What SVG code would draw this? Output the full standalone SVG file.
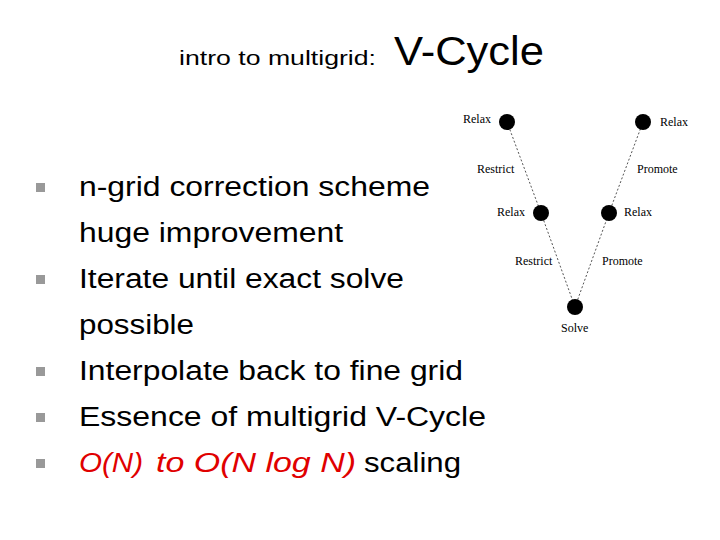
<svg xmlns="http://www.w3.org/2000/svg" width="720" height="540" viewBox="0 0 720 540">
<style>
.b{font-family:"Liberation Sans",Arial,sans-serif;font-size:27px;fill:#000}
.r{fill:#e00000;font-style:italic}
.s{font-family:"Liberation Serif","Times New Roman",serif;font-size:12px;fill:#000}
.n{fill:#000}
.e{stroke:#555;stroke-width:1;stroke-dasharray:2,2;fill:none}
.q{fill:#999}
</style>
<rect width="720" height="540" fill="#fff"/>
<text x="179" y="65" font-family="Liberation Sans,Arial,sans-serif" font-size="20" textLength="197" lengthAdjust="spacingAndGlyphs">intro to multigrid:</text>
<text x="394" y="65" font-family="Liberation Sans,Arial,sans-serif" font-size="40" textLength="150" lengthAdjust="spacingAndGlyphs">V-Cycle</text>
<g id="bullets">
<rect class="q" x="36" y="183" width="9" height="9"/>
<rect class="q" x="36" y="275" width="9" height="9"/>
<rect class="q" x="36" y="367" width="9" height="9"/>
<rect class="q" x="36" y="413" width="9" height="9"/>
<rect class="q" x="36" y="459" width="9" height="9"/>
<text class="b" x="79" y="196" textLength="351" lengthAdjust="spacingAndGlyphs">n-grid correction scheme</text>
<text class="b" x="79" y="242" textLength="264" lengthAdjust="spacingAndGlyphs">huge improvement</text>
<text class="b" x="79" y="288" textLength="325" lengthAdjust="spacingAndGlyphs">Iterate until exact solve</text>
<text class="b" x="79" y="334" textLength="115" lengthAdjust="spacingAndGlyphs">possible</text>
<text class="b" x="79" y="380" textLength="384" lengthAdjust="spacingAndGlyphs">Interpolate back to fine grid</text>
<text class="b" x="79" y="426" textLength="407" lengthAdjust="spacingAndGlyphs">Essence of multigrid V-Cycle</text>
<text class="b r" x="79" y="472" textLength="64" lengthAdjust="spacingAndGlyphs">O(N)</text>
<text class="b r" x="156" y="472" textLength="200" lengthAdjust="spacingAndGlyphs">to O(N log N)</text>
<text class="b" x="364" y="472" textLength="97" lengthAdjust="spacingAndGlyphs">scaling</text>
</g>
<g id="connectors">
<line class="e" x1="507" y1="122" x2="541" y2="213"/>
<line class="e" x1="541" y1="213" x2="575" y2="307"/>
<line class="e" x1="575" y1="307" x2="609" y2="213"/>
<line class="e" x1="609" y1="213" x2="643" y2="122"/>
</g>
<g id="n1"><circle class="n" cx="507" cy="122" r="8"/><text class="s" x="463" y="123">Relax</text></g>
<g id="n2"><circle class="n" cx="643" cy="122" r="8"/><text class="s" x="660" y="126">Relax</text></g>
<g id="n3"><circle class="n" cx="541" cy="213" r="8"/><text class="s" x="497" y="216">Relax</text></g>
<g id="n4"><circle class="n" cx="609" cy="213" r="8"/><text class="s" x="624" y="216">Relax</text></g>
<g id="n5"><circle class="n" cx="575" cy="307" r="8"/><text class="s" x="561" y="332">Solve</text></g>
<text class="s" x="477" y="173">Restrict</text>
<text class="s" x="515" y="265">Restrict</text>
<text class="s" x="637" y="173">Promote</text>
<text class="s" x="602" y="265">Promote</text>
</svg>
